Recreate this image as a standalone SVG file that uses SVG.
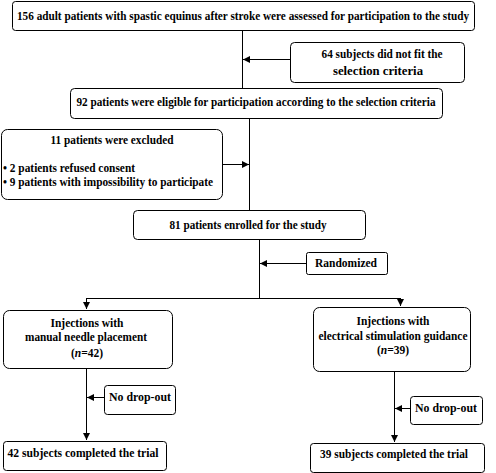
<svg xmlns="http://www.w3.org/2000/svg" width="496" height="473" viewBox="0 0 496 473">
<defs>
<style>
.b{fill:#fff;stroke:#000;stroke-width:1}
.t{font-family:'Liberation Serif','DejaVu Serif','Times New Roman',serif;font-weight:bold;font-size:11.5px;fill:#000}
.c{text-anchor:middle}
.l{fill:none;stroke:#000;stroke-width:1}
</style>
<marker id="ah" markerWidth="8" markerHeight="7" refX="7" refY="3.5" orient="auto" markerUnits="userSpaceOnUse">
<path d="M0,0 L7,3.5 L0,7 Z" fill="#000"/>
</marker>
</defs>
<rect width="496" height="473" fill="#fff"/>
<g id="connectors">
<path class="l" d="M242.5,30 V88"/>
<path class="l" d="M290,59.5 H243" marker-end="url(#ah)"/>
<path class="l" d="M249.5,118 V210"/>
<path class="l" d="M222,164.5 H249" marker-end="url(#ah)"/>
<path class="l" d="M259.5,239 V298.5"/>
<path class="l" d="M306,263.5 H260" marker-end="url(#ah)"/>
<path class="l" d="M86.5,298.5 H400.5"/>
<path class="l" d="M86.5,298 V309" marker-end="url(#ah)"/>
<path class="l" d="M400.5,298 V306" marker-end="url(#ah)"/>
<path class="l" d="M86.5,368 V440" marker-end="url(#ah)"/>
<path class="l" d="M104,397.5 H87" marker-end="url(#ah)"/>
<path class="l" d="M394.5,371 V442" marker-end="url(#ah)"/>
<path class="l" d="M410,408.5 H395" marker-end="url(#ah)"/>
</g>
<g font-family="Liberation Serif, DejaVu Serif, serif">
<g id="n1">
<rect class="b" x="12.5" y="1.5" width="462" height="29" rx="3"/>
<text class="t c" x="243" y="20" textLength="452" lengthAdjust="spacingAndGlyphs">156 adult patients with spastic equinus after stroke were assessed for participation to the study</text>
</g>
<g id="n2">
<rect class="b" x="290.5" y="42.5" width="174" height="40" rx="4"/>
<text class="t c" x="382" y="58" textLength="121" lengthAdjust="spacingAndGlyphs">64 subjects did not fit the</text>
<text class="t c" x="378" y="75" textLength="90" lengthAdjust="spacingAndGlyphs">selection criteria</text>
</g>
<g id="n3">
<rect class="b" x="70.5" y="88.5" width="372" height="30" rx="4"/>
<text class="t c" x="256" y="106" textLength="359" lengthAdjust="spacingAndGlyphs">92 patients were eligible for participation according to the selection criteria</text>
</g>
<g id="n4">
<rect class="b" x="1.5" y="129.5" width="221" height="70" rx="6"/>
<text class="t c" x="112" y="144" textLength="123" lengthAdjust="spacingAndGlyphs">11 patients were excluded</text>
<text class="t" x="3" y="172" textLength="132" lengthAdjust="spacingAndGlyphs">• 2 patients refused consent</text>
<text class="t" x="3" y="186" textLength="210" lengthAdjust="spacingAndGlyphs">• 9 patients with impossibility to participate</text>
</g>
<g id="n5">
<rect class="b" x="133.5" y="210.5" width="232" height="29" rx="4"/>
<text class="t c" x="248" y="229" textLength="157" lengthAdjust="spacingAndGlyphs">81 patients enrolled for the study</text>
</g>
<g id="n6">
<rect class="b" x="306.5" y="252.5" width="81" height="22" rx="2"/>
<text class="t c" x="346" y="267" textLength="62" lengthAdjust="spacingAndGlyphs">Randomized</text>
</g>
<g id="n7">
<rect class="b" x="3.5" y="310.5" width="169" height="58" rx="6"/>
<text class="t c" x="87" y="327" textLength="73" lengthAdjust="spacingAndGlyphs">Injections with</text>
<text class="t c" x="86" y="341" textLength="122" lengthAdjust="spacingAndGlyphs">manual needle placement</text>
<text class="t c" x="87" y="357">(<tspan font-style="italic">n</tspan>=42)</text>
</g>
<g id="n8">
<rect class="b" x="313.5" y="307.5" width="157" height="64" rx="6"/>
<text class="t c" x="393" y="325" textLength="73" lengthAdjust="spacingAndGlyphs">Injections with</text>
<text class="t c" x="393" y="340" textLength="149" lengthAdjust="spacingAndGlyphs">electrical stimulation guidance</text>
<text class="t c" x="393" y="354">(<tspan font-style="italic">n</tspan>=39)</text>
</g>
<g id="n9">
<rect class="b" x="104.5" y="385.5" width="71" height="29" rx="3"/>
<text class="t c" x="140" y="401" textLength="62" lengthAdjust="spacingAndGlyphs">No drop-out</text>
</g>
<g id="n10">
<rect class="b" x="410.5" y="396.5" width="72" height="28" rx="3"/>
<text class="t c" x="446" y="412" textLength="62" lengthAdjust="spacingAndGlyphs">No drop-out</text>
</g>
<g id="n11">
<rect class="b" x="3.5" y="441.5" width="163" height="29" rx="3"/>
<text class="t c" x="83" y="457" textLength="151" lengthAdjust="spacingAndGlyphs">42 subjects completed the trial</text>
</g>
<g id="n12">
<rect class="b" x="310.5" y="443.5" width="174" height="29" rx="3"/>
<text class="t c" x="394" y="458" textLength="148" lengthAdjust="spacingAndGlyphs">39 subjects completed the trial</text>
</g>
</g>
</svg>
